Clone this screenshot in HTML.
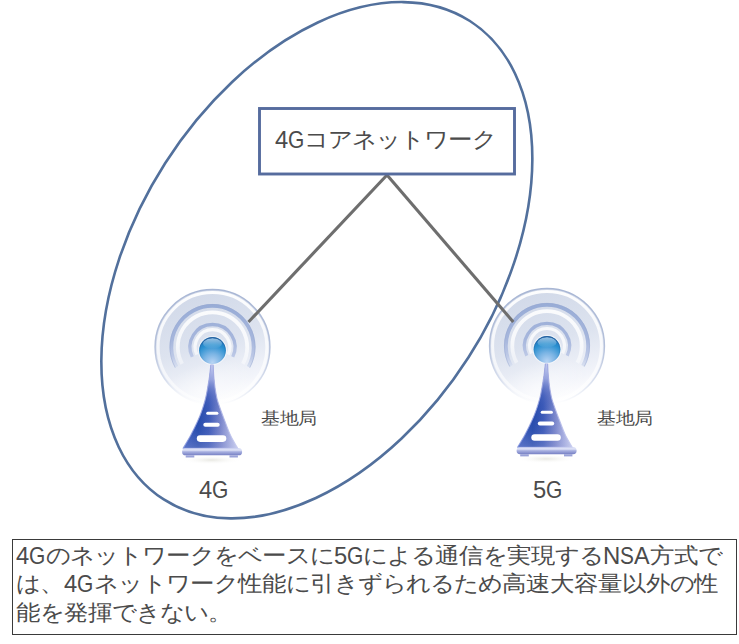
<!DOCTYPE html>
<html><head><meta charset="utf-8">
<style>
html,body{margin:0;padding:0;background:#ffffff;}
body{width:739px;height:644px;position:relative;overflow:hidden;font-family:"Liberation Sans",sans-serif;}
svg{position:absolute;left:0;top:0;}
.c{position:absolute;line-height:1;white-space:nowrap;color:#4b4b4b;}
.l{transform-origin:0 50%;}
.j{text-align:left;transform:scaleY(0.9);transform-origin:50% 50%;}
.box{position:absolute;left:12px;top:539px;width:723px;height:94px;border:1px solid #3a3a3a;}
</style></head><body>
<svg width="739" height="644" viewBox="0 0 739 644">
<defs>
  <radialGradient id="ball" cx="0.5" cy="0.95" r="0.95" fx="0.5" fy="0.95">
    <stop offset="0" stop-color="#b8d4f4"/>
    <stop offset="0.35" stop-color="#7ab4e4"/>
    <stop offset="0.7" stop-color="#2a90d0"/>
    <stop offset="1" stop-color="#1a70bc"/>
  </radialGradient>
  <linearGradient id="ballHi" x1="0" y1="0" x2="0" y2="1">
    <stop offset="0" stop-color="#ffffff" stop-opacity="0.55"/>
    <stop offset="1" stop-color="#ffffff" stop-opacity="0"/>
  </linearGradient>
  <linearGradient id="ballRim" x1="0" y1="0" x2="0" y2="1">
    <stop offset="0" stop-color="#2c5c94" stop-opacity="0.9"/>
    <stop offset="0.45" stop-color="#2c5c94" stop-opacity="0.25"/>
    <stop offset="1" stop-color="#2c5c94" stop-opacity="0"/>
  </linearGradient>
  <linearGradient id="disc" x1="0.25" y1="0" x2="0.55" y2="1">
    <stop offset="0" stop-color="#d0d8e8"/>
    <stop offset="0.5" stop-color="#dde3ef"/>
    <stop offset="0.85" stop-color="#f2f4fa"/>
    <stop offset="1" stop-color="#ffffff"/>
  </linearGradient>
  <linearGradient id="discStroke" x1="0" y1="0" x2="0" y2="1">
    <stop offset="0" stop-color="#a8b6d4"/>
    <stop offset="0.5" stop-color="#b4c0da"/>
    <stop offset="0.8" stop-color="#d8dfee"/>
    <stop offset="1" stop-color="#ffffff"/>
  </linearGradient>
  <linearGradient id="discWhite" x1="0" y1="0" x2="0" y2="1">
    <stop offset="0" stop-color="#ffffff" stop-opacity="0.95"/>
    <stop offset="1" stop-color="#ffffff" stop-opacity="0.5"/>
  </linearGradient>
  <radialGradient id="gloss" cx="0.5" cy="0.5" r="0.5">
    <stop offset="0" stop-color="#ffffff" stop-opacity="0.55"/>
    <stop offset="1" stop-color="#ffffff" stop-opacity="0"/>
  </radialGradient>
  <linearGradient id="ring" gradientUnits="userSpaceOnUse" x1="0" y1="-42" x2="0" y2="22">
    <stop offset="0" stop-color="#98acd6"/>
    <stop offset="0.55" stop-color="#a6b6dc"/>
    <stop offset="0.8" stop-color="#bcc8e6"/>
    <stop offset="1" stop-color="#dde4f2"/>
  </linearGradient>
  <linearGradient id="ringW" gradientUnits="userSpaceOnUse" x1="0" y1="-40" x2="0" y2="22">
    <stop offset="0" stop-color="#ffffff" stop-opacity="0.9"/>
    <stop offset="0.6" stop-color="#ffffff" stop-opacity="0.75"/>
    <stop offset="1" stop-color="#ffffff" stop-opacity="0.35"/>
  </linearGradient>
  <linearGradient id="tower" gradientUnits="userSpaceOnUse" x1="-30" y1="0" x2="26" y2="0">
    <stop offset="0" stop-color="#3a5cc0"/>
    <stop offset="0.28" stop-color="#244aac"/>
    <stop offset="0.47" stop-color="#3c5ab8"/>
    <stop offset="0.68" stop-color="#7c88cc"/>
    <stop offset="0.87" stop-color="#b8bee8"/>
    <stop offset="1" stop-color="#e0e4f8"/>
  </linearGradient>
  <linearGradient id="towerV" gradientUnits="userSpaceOnUse" x1="0" y1="14" x2="0" y2="98">
    <stop offset="0" stop-color="#c4ccf2" stop-opacity="1"/>
    <stop offset="0.18" stop-color="#a8b2e6" stop-opacity="0.8"/>
    <stop offset="0.38" stop-color="#6a7ccc" stop-opacity="0.25"/>
    <stop offset="0.55" stop-color="#2a4cb0" stop-opacity="0"/>
    <stop offset="0.8" stop-color="#8890d0" stop-opacity="0.1"/>
    <stop offset="1" stop-color="#a0a8dc" stop-opacity="0.35"/>
  </linearGradient>
  <linearGradient id="towerEdge" gradientUnits="userSpaceOnUse" x1="-30" y1="0" x2="27" y2="0">
    <stop offset="0" stop-color="#8a9ae0" stop-opacity="0.8"/>
    <stop offset="0.5" stop-color="#a0a8e0" stop-opacity="0.9"/>
    <stop offset="1" stop-color="#c8ccf0" stop-opacity="0.9"/>
  </linearGradient>
  <linearGradient id="base" x1="0" y1="0" x2="0" y2="1">
    <stop offset="0" stop-color="#c8cef0"/>
    <stop offset="0.25" stop-color="#e2e6f8"/>
    <stop offset="0.5" stop-color="#a8b0e0"/>
    <stop offset="1" stop-color="#7680c4"/>
  </linearGradient>
  <radialGradient id="shadow" cx="0.5" cy="0.5" r="0.5">
    <stop offset="0" stop-color="#e8e8e2"/>
    <stop offset="1" stop-color="#ffffff" stop-opacity="0"/>
  </radialGradient>
</defs>

<g transform="translate(212.5,350.5)">
  <ellipse cx="-1" cy="109.5" rx="30" ry="4.5" fill="url(#shadow)"/>
  <circle cx="0" cy="-3.5" r="57.4" fill="url(#disc)"/>
  <circle cx="0" cy="-3.5" r="57.4" fill="none" stroke="url(#discStroke)" stroke-width="1.5"/>
  <circle cx="0" cy="-3.5" r="54.4" fill="none" stroke="url(#discWhite)" stroke-width="3"/>
  <ellipse cx="-10" cy="40" rx="52" ry="26" transform="rotate(-22 -10 40)" fill="url(#gloss)"/>
  <g transform="translate(0,-3.5)">
  <path d="M-35.95,19.93 A41.1,41.1 0 1 1 35.95,19.93" fill="none" stroke="url(#ring)" stroke-width="3.7"/>
  <path d="M-37.26,20.65 A42.6,42.6 0 1 1 37.26,20.65" fill="none" stroke="#98a8d0" stroke-width="0.8" opacity="0.6"/>
  <path d="M-30.35,16.82 A34.7,34.7 0 1 1 30.35,16.82" fill="none" stroke="url(#ringW)" stroke-width="3.8"/>
  <path d="M-20.22,9.86 A22.5,22.5 0 1 1 20.22,9.86" fill="none" stroke="url(#ring)" stroke-width="3.3"/>
  <path d="M-15.64,7.63 A17.4,17.4 0 1 1 15.64,7.63" fill="none" stroke="url(#ringW)" stroke-width="3.2"/>
  </g>
  <path d="M0.60,14.00 C0.72,16.00 0.98,22.17 1.30,26.00 C1.62,29.83 2.10,34.00 2.50,37.00 C2.90,40.00 3.28,41.83 3.70,44.00 C4.12,46.17 4.22,47.33 5.00,50.00 C5.78,52.67 7.20,56.65 8.40,60.00 C9.60,63.35 10.60,65.97 12.20,70.10 C13.80,74.23 15.83,80.18 18.00,84.80 C20.17,89.42 24.00,95.63 25.20,97.80 L-29.40,97.80 C-28.13,95.63 -24.27,89.42 -21.80,84.80 C-19.33,80.18 -16.47,74.23 -14.60,70.10 C-12.73,65.97 -11.78,63.35 -10.60,60.00 C-9.42,56.65 -8.25,52.67 -7.50,50.00 C-6.75,47.33 -6.55,46.17 -6.10,44.00 C-5.65,41.83 -5.32,40.00 -4.80,37.00 C-4.28,34.00 -3.53,29.83 -3.00,26.00 C-2.47,22.17 -1.83,16.00 -1.60,14.00 Z" fill="url(#tower)"/>
  <path d="M0.60,14.00 C0.72,16.00 0.98,22.17 1.30,26.00 C1.62,29.83 2.10,34.00 2.50,37.00 C2.90,40.00 3.28,41.83 3.70,44.00 C4.12,46.17 4.22,47.33 5.00,50.00 C5.78,52.67 7.20,56.65 8.40,60.00 C9.60,63.35 10.60,65.97 12.20,70.10 C13.80,74.23 15.83,80.18 18.00,84.80 C20.17,89.42 24.00,95.63 25.20,97.80 L-29.40,97.80 C-28.13,95.63 -24.27,89.42 -21.80,84.80 C-19.33,80.18 -16.47,74.23 -14.60,70.10 C-12.73,65.97 -11.78,63.35 -10.60,60.00 C-9.42,56.65 -8.25,52.67 -7.50,50.00 C-6.75,47.33 -6.55,46.17 -6.10,44.00 C-5.65,41.83 -5.32,40.00 -4.80,37.00 C-4.28,34.00 -3.53,29.83 -3.00,26.00 C-2.47,22.17 -1.83,16.00 -1.60,14.00 Z" fill="url(#towerV)" stroke="url(#towerEdge)" stroke-width="1.1" stroke-linejoin="round"/>
  <rect x="-6.3" y="61.3" width="12.2" height="3" rx="1.5" fill="#ffffff"/>
  <rect x="-9.2" y="72.2" width="16.4" height="4" rx="2" fill="#ffffff"/>
  <rect x="-15.7" y="84.8" width="29.5" height="6.6" rx="3.3" fill="#ffffff"/>
  <rect x="-30.4" y="97.8" width="60" height="7" rx="3.4" fill="url(#base)"/>
  <rect x="-26.8" y="104.8" width="8.6" height="2.2" fill="#9aa2d8"/>
  <rect x="17" y="104.8" width="8.4" height="2.2" fill="#9aa2d8"/>
  <circle cx="0" cy="0" r="14.6" fill="#ffffff" opacity="0.5"/>
  <circle cx="0" cy="0" r="13.4" fill="url(#ball)"/>
  <ellipse cx="0" cy="-7" rx="9.5" ry="5.2" fill="url(#ballHi)"/>
  <circle cx="0" cy="0" r="12.9" fill="none" stroke="url(#ballRim)" stroke-width="1"/>
</g>

<g transform="translate(547,349.4)">
  <ellipse cx="-1" cy="109.5" rx="30" ry="4.5" fill="url(#shadow)"/>
  <circle cx="0" cy="-3.5" r="57.4" fill="url(#disc)"/>
  <circle cx="0" cy="-3.5" r="57.4" fill="none" stroke="url(#discStroke)" stroke-width="1.5"/>
  <circle cx="0" cy="-3.5" r="54.4" fill="none" stroke="url(#discWhite)" stroke-width="3"/>
  <ellipse cx="-10" cy="40" rx="52" ry="26" transform="rotate(-22 -10 40)" fill="url(#gloss)"/>
  <g transform="translate(0,-3.5)">
  <path d="M-35.95,19.93 A41.1,41.1 0 1 1 35.95,19.93" fill="none" stroke="url(#ring)" stroke-width="3.7"/>
  <path d="M-37.26,20.65 A42.6,42.6 0 1 1 37.26,20.65" fill="none" stroke="#98a8d0" stroke-width="0.8" opacity="0.6"/>
  <path d="M-30.35,16.82 A34.7,34.7 0 1 1 30.35,16.82" fill="none" stroke="url(#ringW)" stroke-width="3.8"/>
  <path d="M-20.22,9.86 A22.5,22.5 0 1 1 20.22,9.86" fill="none" stroke="url(#ring)" stroke-width="3.3"/>
  <path d="M-15.64,7.63 A17.4,17.4 0 1 1 15.64,7.63" fill="none" stroke="url(#ringW)" stroke-width="3.2"/>
  </g>
  <path d="M0.60,14.00 C0.72,16.00 0.98,22.17 1.30,26.00 C1.62,29.83 2.10,34.00 2.50,37.00 C2.90,40.00 3.28,41.83 3.70,44.00 C4.12,46.17 4.22,47.33 5.00,50.00 C5.78,52.67 7.20,56.65 8.40,60.00 C9.60,63.35 10.60,65.97 12.20,70.10 C13.80,74.23 15.83,80.18 18.00,84.80 C20.17,89.42 24.00,95.63 25.20,97.80 L-29.40,97.80 C-28.13,95.63 -24.27,89.42 -21.80,84.80 C-19.33,80.18 -16.47,74.23 -14.60,70.10 C-12.73,65.97 -11.78,63.35 -10.60,60.00 C-9.42,56.65 -8.25,52.67 -7.50,50.00 C-6.75,47.33 -6.55,46.17 -6.10,44.00 C-5.65,41.83 -5.32,40.00 -4.80,37.00 C-4.28,34.00 -3.53,29.83 -3.00,26.00 C-2.47,22.17 -1.83,16.00 -1.60,14.00 Z" fill="url(#tower)"/>
  <path d="M0.60,14.00 C0.72,16.00 0.98,22.17 1.30,26.00 C1.62,29.83 2.10,34.00 2.50,37.00 C2.90,40.00 3.28,41.83 3.70,44.00 C4.12,46.17 4.22,47.33 5.00,50.00 C5.78,52.67 7.20,56.65 8.40,60.00 C9.60,63.35 10.60,65.97 12.20,70.10 C13.80,74.23 15.83,80.18 18.00,84.80 C20.17,89.42 24.00,95.63 25.20,97.80 L-29.40,97.80 C-28.13,95.63 -24.27,89.42 -21.80,84.80 C-19.33,80.18 -16.47,74.23 -14.60,70.10 C-12.73,65.97 -11.78,63.35 -10.60,60.00 C-9.42,56.65 -8.25,52.67 -7.50,50.00 C-6.75,47.33 -6.55,46.17 -6.10,44.00 C-5.65,41.83 -5.32,40.00 -4.80,37.00 C-4.28,34.00 -3.53,29.83 -3.00,26.00 C-2.47,22.17 -1.83,16.00 -1.60,14.00 Z" fill="url(#towerV)" stroke="url(#towerEdge)" stroke-width="1.1" stroke-linejoin="round"/>
  <rect x="-6.3" y="61.3" width="12.2" height="3" rx="1.5" fill="#ffffff"/>
  <rect x="-9.2" y="72.2" width="16.4" height="4" rx="2" fill="#ffffff"/>
  <rect x="-15.7" y="84.8" width="29.5" height="6.6" rx="3.3" fill="#ffffff"/>
  <rect x="-30.4" y="97.8" width="60" height="7" rx="3.4" fill="url(#base)"/>
  <rect x="-26.8" y="104.8" width="8.6" height="2.2" fill="#9aa2d8"/>
  <rect x="17" y="104.8" width="8.4" height="2.2" fill="#9aa2d8"/>
  <circle cx="0" cy="0" r="14.6" fill="#ffffff" opacity="0.5"/>
  <circle cx="0" cy="0" r="13.4" fill="url(#ball)"/>
  <ellipse cx="0" cy="-7" rx="9.5" ry="5.2" fill="url(#ballHi)"/>
  <circle cx="0" cy="0" r="12.9" fill="none" stroke="url(#ballRim)" stroke-width="1"/>
</g>
<ellipse cx="316.84" cy="260.24" rx="284" ry="180.1" transform="rotate(-57.39 316.84 260.24)" fill="none" stroke="#52709c" stroke-width="2.6"/>
<line x1="387" y1="175" x2="248.5" y2="322" stroke="#6e6e6e" stroke-width="3.1"/>
<line x1="387" y1="175" x2="513.3" y2="322" stroke="#6e6e6e" stroke-width="3.1"/>
<rect x="259.5" y="108.5" width="255" height="65.5" fill="#ffffff" stroke="#566c9e" stroke-width="2.9"/>
</svg>
<span class="c l" style="left:274.50px;top:127.70px;font-size:24px;transform:scaleX(0.989)">4</span>
<span class="c l" style="left:287.70px;top:127.70px;font-size:24px;transform:scaleX(0.873)">G</span>
<span class="c j" style="left:304.00px;top:127.70px;font-size:24px;width:24.0px">コ</span>
<span class="c j" style="left:328.00px;top:127.70px;font-size:24px;width:24.0px">ア</span>
<span class="c j" style="left:352.00px;top:127.70px;font-size:24px;width:24.0px">ネ</span>
<span class="c j" style="left:376.00px;top:127.70px;font-size:24px;width:24.0px">ッ</span>
<span class="c j" style="left:400.00px;top:127.70px;font-size:24px;width:24.0px">ト</span>
<span class="c j" style="left:424.00px;top:127.70px;font-size:24px;width:24.0px">ワ</span>
<span class="c j" style="left:448.00px;top:127.70px;font-size:24px;width:24.0px">ー</span>
<span class="c j" style="left:472.00px;top:127.70px;font-size:24px;width:24.0px">ク</span>
<span class="c j" style="left:261.00px;top:410.37px;font-size:18.67px;width:18.67px">基</span>
<span class="c j" style="left:279.67px;top:410.37px;font-size:18.67px;width:18.67px">地</span>
<span class="c j" style="left:298.34px;top:410.37px;font-size:18.67px;width:18.67px">局</span>
<span class="c j" style="left:597.00px;top:409.87px;font-size:18.67px;width:18.67px">基</span>
<span class="c j" style="left:615.67px;top:409.87px;font-size:18.67px;width:18.67px">地</span>
<span class="c j" style="left:634.34px;top:409.87px;font-size:18.67px;width:18.67px">局</span>
<span class="c l" style="left:198.50px;top:478.30px;font-size:24px;transform:scaleX(0.989)">4</span>
<span class="c l" style="left:211.70px;top:478.30px;font-size:24px;transform:scaleX(0.873)">G</span>
<span class="c l" style="left:532.50px;top:478.30px;font-size:24px;transform:scaleX(0.989)">5</span>
<span class="c l" style="left:545.70px;top:478.30px;font-size:24px;transform:scaleX(0.873)">G</span>
<div class="box"></div>
<span class="c l" style="left:16.00px;top:544.00px;font-size:24px;transform:scaleX(0.989)">4</span>
<span class="c l" style="left:29.20px;top:544.00px;font-size:24px;transform:scaleX(0.873)">G</span>
<span class="c j" style="left:45.50px;top:544.00px;font-size:24px;width:24.0px">の</span>
<span class="c j" style="left:69.50px;top:544.00px;font-size:24px;width:24.0px">ネ</span>
<span class="c j" style="left:93.50px;top:544.00px;font-size:24px;width:24.0px">ッ</span>
<span class="c j" style="left:117.50px;top:544.00px;font-size:24px;width:24.0px">ト</span>
<span class="c j" style="left:141.50px;top:544.00px;font-size:24px;width:24.0px">ワ</span>
<span class="c j" style="left:165.50px;top:544.00px;font-size:24px;width:24.0px">ー</span>
<span class="c j" style="left:189.50px;top:544.00px;font-size:24px;width:24.0px">ク</span>
<span class="c j" style="left:213.50px;top:544.00px;font-size:24px;width:24.0px">を</span>
<span class="c j" style="left:237.50px;top:544.00px;font-size:24px;width:24.0px">ベ</span>
<span class="c j" style="left:261.50px;top:544.00px;font-size:24px;width:24.0px">ー</span>
<span class="c j" style="left:285.50px;top:544.00px;font-size:24px;width:24.0px">ス</span>
<span class="c j" style="left:309.50px;top:544.00px;font-size:24px;width:24.0px">に</span>
<span class="c l" style="left:333.50px;top:544.00px;font-size:24px;transform:scaleX(0.989)">5</span>
<span class="c l" style="left:346.70px;top:544.00px;font-size:24px;transform:scaleX(0.873)">G</span>
<span class="c j" style="left:363.00px;top:544.00px;font-size:24px;width:24.0px">に</span>
<span class="c j" style="left:387.00px;top:544.00px;font-size:24px;width:24.0px">よ</span>
<span class="c j" style="left:411.00px;top:544.00px;font-size:24px;width:24.0px">る</span>
<span class="c j" style="left:435.00px;top:544.00px;font-size:24px;width:24.0px">通</span>
<span class="c j" style="left:459.00px;top:544.00px;font-size:24px;width:24.0px">信</span>
<span class="c j" style="left:483.00px;top:544.00px;font-size:24px;width:24.0px">を</span>
<span class="c j" style="left:507.00px;top:544.00px;font-size:24px;width:24.0px">実</span>
<span class="c j" style="left:531.00px;top:544.00px;font-size:24px;width:24.0px">現</span>
<span class="c j" style="left:555.00px;top:544.00px;font-size:24px;width:24.0px">す</span>
<span class="c j" style="left:579.00px;top:544.00px;font-size:24px;width:24.0px">る</span>
<span class="c l" style="left:603.00px;top:544.00px;font-size:24px;transform:scaleX(0.998)">N</span>
<span class="c l" style="left:620.30px;top:544.00px;font-size:24px;transform:scaleX(0.868)">S</span>
<span class="c l" style="left:634.20px;top:544.00px;font-size:24px;transform:scaleX(0.975)">A</span>
<span class="c j" style="left:649.80px;top:544.00px;font-size:24px;width:24.0px">方</span>
<span class="c j" style="left:673.80px;top:544.00px;font-size:24px;width:24.0px">式</span>
<span class="c j" style="left:697.80px;top:544.00px;font-size:24px;width:24.0px">で</span>
<span class="c j" style="left:16.00px;top:572.00px;font-size:24px;width:24.0px">は</span>
<span class="c j" style="left:40.00px;top:572.00px;font-size:24px;width:24.0px">、</span>
<span class="c l" style="left:64.00px;top:572.00px;font-size:24px;transform:scaleX(0.989)">4</span>
<span class="c l" style="left:77.20px;top:572.00px;font-size:24px;transform:scaleX(0.873)">G</span>
<span class="c j" style="left:93.50px;top:572.00px;font-size:24px;width:24.0px">ネ</span>
<span class="c j" style="left:117.50px;top:572.00px;font-size:24px;width:24.0px">ッ</span>
<span class="c j" style="left:141.50px;top:572.00px;font-size:24px;width:24.0px">ト</span>
<span class="c j" style="left:165.50px;top:572.00px;font-size:24px;width:24.0px">ワ</span>
<span class="c j" style="left:189.50px;top:572.00px;font-size:24px;width:24.0px">ー</span>
<span class="c j" style="left:213.50px;top:572.00px;font-size:24px;width:24.0px">ク</span>
<span class="c j" style="left:237.50px;top:572.00px;font-size:24px;width:24.0px">性</span>
<span class="c j" style="left:261.50px;top:572.00px;font-size:24px;width:24.0px">能</span>
<span class="c j" style="left:285.50px;top:572.00px;font-size:24px;width:24.0px">に</span>
<span class="c j" style="left:309.50px;top:572.00px;font-size:24px;width:24.0px">引</span>
<span class="c j" style="left:333.50px;top:572.00px;font-size:24px;width:24.0px">き</span>
<span class="c j" style="left:357.50px;top:572.00px;font-size:24px;width:24.0px">ず</span>
<span class="c j" style="left:381.50px;top:572.00px;font-size:24px;width:24.0px">ら</span>
<span class="c j" style="left:405.50px;top:572.00px;font-size:24px;width:24.0px">れ</span>
<span class="c j" style="left:429.50px;top:572.00px;font-size:24px;width:24.0px">る</span>
<span class="c j" style="left:453.50px;top:572.00px;font-size:24px;width:24.0px">た</span>
<span class="c j" style="left:477.50px;top:572.00px;font-size:24px;width:24.0px">め</span>
<span class="c j" style="left:501.50px;top:572.00px;font-size:24px;width:24.0px">高</span>
<span class="c j" style="left:525.50px;top:572.00px;font-size:24px;width:24.0px">速</span>
<span class="c j" style="left:549.50px;top:572.00px;font-size:24px;width:24.0px">大</span>
<span class="c j" style="left:573.50px;top:572.00px;font-size:24px;width:24.0px">容</span>
<span class="c j" style="left:597.50px;top:572.00px;font-size:24px;width:24.0px">量</span>
<span class="c j" style="left:621.50px;top:572.00px;font-size:24px;width:24.0px">以</span>
<span class="c j" style="left:645.50px;top:572.00px;font-size:24px;width:24.0px">外</span>
<span class="c j" style="left:669.50px;top:572.00px;font-size:24px;width:24.0px">の</span>
<span class="c j" style="left:693.50px;top:572.00px;font-size:24px;width:24.0px">性</span>
<span class="c j" style="left:16.00px;top:600.50px;font-size:24px;width:24.0px">能</span>
<span class="c j" style="left:40.00px;top:600.50px;font-size:24px;width:24.0px">を</span>
<span class="c j" style="left:64.00px;top:600.50px;font-size:24px;width:24.0px">発</span>
<span class="c j" style="left:88.00px;top:600.50px;font-size:24px;width:24.0px">揮</span>
<span class="c j" style="left:112.00px;top:600.50px;font-size:24px;width:24.0px">で</span>
<span class="c j" style="left:136.00px;top:600.50px;font-size:24px;width:24.0px">き</span>
<span class="c j" style="left:160.00px;top:600.50px;font-size:24px;width:24.0px">な</span>
<span class="c j" style="left:184.00px;top:600.50px;font-size:24px;width:24.0px">い</span>
<span class="c j" style="left:208.00px;top:600.50px;font-size:24px;width:24.0px">。</span>
</body></html>
